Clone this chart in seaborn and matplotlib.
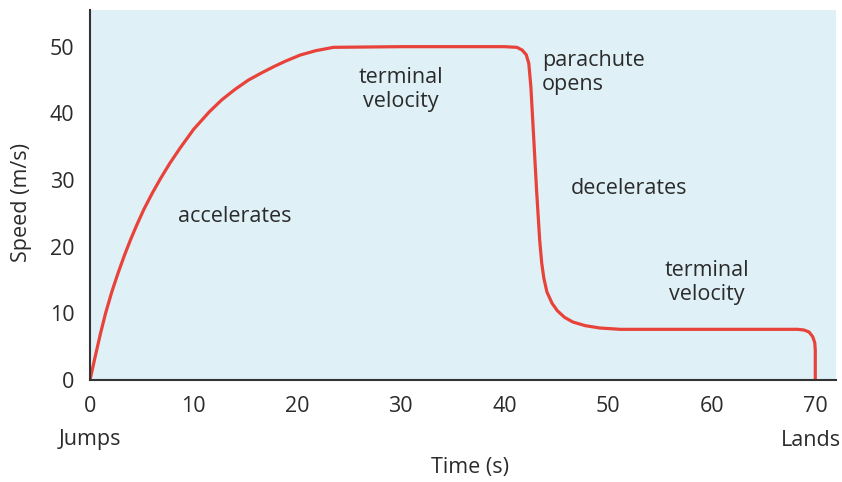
import matplotlib
matplotlib.use("Agg")
import matplotlib.pyplot as plt
import seaborn as sns
import pandas as pd

# Data
time_s = [0, 0.5, 1.0, 1.5, 2.1, 2.7, 3.3, 3.9, 4.5, 5.2, 6.0, 6.8, 7.7,
          8.7, 10.0, 11.5, 12.7, 14.0, 15.3, 16.6, 17.8, 18.9, 20.3, 21.8,
          23.5, 30, 40, 41.2, 41.7, 42.1, 42.35, 42.55, 42.8, 43.1, 43.4,
          43.6, 43.8, 44.1, 44.6, 45.1, 45.8, 46.6, 47.8, 49.2, 51.2,
          60, 68.3, 68.9, 69.4, 69.75, 69.95, 70, 70]
speed = [0, 3.5, 6.9, 10, 13.2, 16, 18.6, 21, 23.2, 25.6, 28, 30.2, 32.5,
         34.8, 37.6, 40.2, 42, 43.6, 45, 46.1, 47.05, 47.85, 48.75, 49.4,
         49.9, 50, 50, 49.9, 49.5, 48.8, 47.5, 44, 37, 28.5, 21,
         17.5, 15.3, 13.2, 11.5, 10.4, 9.4, 8.7, 8.15, 7.8, 7.6,
         7.6, 7.6, 7.5, 7.2, 6.5, 5.6, 4.5, 0]

x_ticks = [0, 10, 20, 30, 40, 50, 60, 70]
y_ticks = [0, 10, 20, 30, 40, 50]

annotations = [
    ("terminal\nvelocity", 30, 43.6, "center"),
    ("parachute\nopens", 43.6, 46.1, "left"),
    ("accelerates", 14, 24.5, "center"),
    ("decelerates", 52, 28.7, "center"),
    ("terminal\nvelocity", 59.5, 14.6, "center"),
]

sns.set_style("white")
plt.rcParams["font.family"] = ["Open Sans", "DejaVu Sans"]
text_color = "#2b2b2b"
fs = 15.5

fig = plt.figure(figsize=(8.42, 4.82), dpi=100)
ax = fig.add_axes([90 / 842, 102 / 482, 746 / 842, 370 / 482])
ax.set_facecolor("#dff0f7")

df = pd.DataFrame({"t": time_s, "v": speed})
sns.lineplot(data=df, x="t", y="v", sort=False, estimator=None,
             color="#e8433a", linewidth=2.3, ax=ax)
for line in ax.get_lines():
    line.set_solid_joinstyle("round")
    line.set_solid_capstyle("round")

ax.set_xlim(0, 72.0)
ax.set_ylim(0, 55.5)
ax.set_xticks(x_ticks)
ax.set_yticks(y_ticks)
ax.tick_params(direction="inout", length=14.5, width=1.5, colors="#333333",
               labelcolor=text_color, labelsize=fs, pad=4)
for s in ["top", "right"]:
    ax.spines[s].set_visible(False)
for s in ["left", "bottom"]:
    ax.spines[s].set_color("#333333")
    ax.spines[s].set_linewidth(1.5)

ax.set_xlabel("Time (s)", fontsize=fs, color=text_color)
ax.xaxis.label.set_va("center")
ax.xaxis.set_label_coords((470 - 90) / 746, (380 - 467) / 370)
ax.set_ylabel("Speed (m/s)", fontsize=fs, color=text_color)
ax.yaxis.label.set_va("center")
ax.yaxis.set_label_coords((22 - 90) / 746, 0.48)

for txt, x, y, ha in annotations:
    ax.text(x, y, txt, ha=ha, va="center", fontsize=fs, color=text_color,
            linespacing=1.15)

ax.text(0, -9.0, "Jumps", ha="center", va="center", fontsize=fs,
        color=text_color, clip_on=False)
ax.text(69.55, -9.0, "Lands", ha="center", va="center", fontsize=fs,
        color=text_color, clip_on=False)

fig.savefig("out.png", dpi=100)
